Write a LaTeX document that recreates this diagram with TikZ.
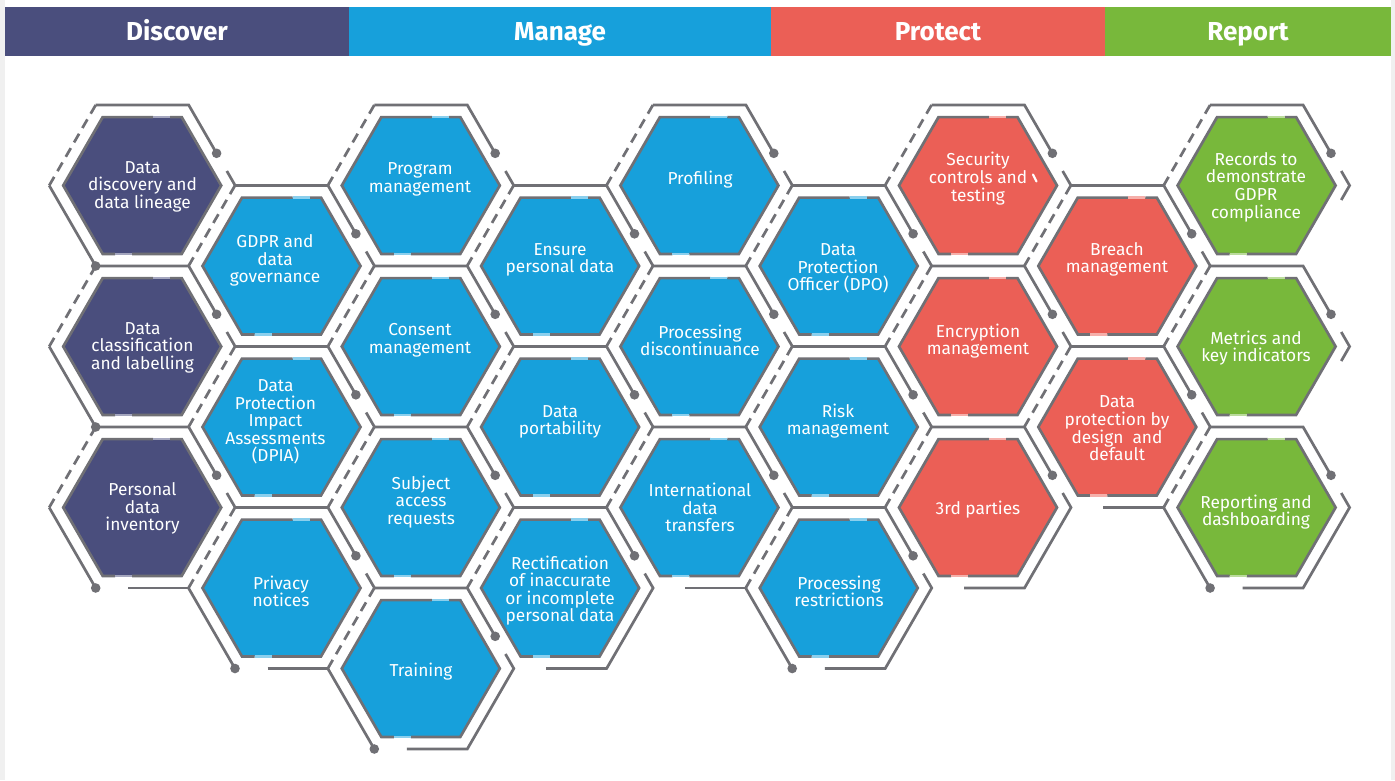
\documentclass[tikz,border=0pt]{standalone}
\usepackage{fontspec}
\setmainfont{Fira Sans}
\usetikzlibrary{calc}
\definecolor{cdisc}{HTML}{4A4E7D}
\definecolor{cman}{HTML}{17A0DB}
\definecolor{cprot}{HTML}{EB5F56}
\definecolor{crep}{HTML}{78B83B}
\definecolor{cline}{HTML}{707075}
\definecolor{cmargin}{HTML}{F0F0F0}
\tikzset{
  frameline/.style={draw=cline,line width=2.7pt,line join=miter},
  dashline/.style={draw=cline,line width=2.7pt,dash pattern=on 10pt off 6.6pt},
  hexline/.style={draw=cline,line width=2.7pt,line join=miter},
  gapline/.style={line width=2.7pt},
  hextext/.style={text=white,align=center,inner sep=0pt,font=\fontsize{17.3}{17.6}\selectfont},
  headtext/.style={text=white,inner sep=0pt,anchor=base,font=\fontsize{26}{30}\selectfont\bfseries}
}
% #1 cx, #2 cy, #3 colour, #4 lower-left boundary, #5 bottom boundary, #6 lower-right mode
\newcommand\hexcell[6]{%
  \begin{scope}[shift={(#1,#2)}]
    \draw[dashline] (-46.5,-80.5) -- (-93,0);
    \draw[frameline] (-46.5,-80.5) -- (46.5,-80.5) -- (74.4,-32.2);
    \fill[cline] (74.4,-32.2) circle (4.8pt);
    \ifcase#6
      \draw[frameline] (84.63,-14.49) -- (93,0);
    \or
      \draw[frameline] (84.63,-14.49) -- (93,0) -- (84.63,14.49);
    \or
      \draw[frameline] (84.63,-14.49) -- (93,0) -- (46.5,80.5) -- (-13.95,80.5);
    \fi
    \ifnum#5=1 \ifnum#6<2 \draw[frameline] (-13.95,80.5) -- (46.5,80.5);\fi\fi
    \ifnum#4=1 \draw[frameline] (-93,0) -- (-46.5,80.5); \fill[cline] (-46.5,80.5) circle (4.8pt);\fi
    \fill[#3] (79,0) -- (39.5,68.4) -- (-39.5,68.4) -- (-79,0) -- (-39.5,-68.4) -- (39.5,-68.4) -- cycle;
    \draw[hexline] (28,-68.4) -- (39.5,-68.4) -- (79,0) -- (39.5,68.4) -- (-10,68.4);
    \draw[hexline] (-27,68.4) -- (-39.5,68.4) -- (-79,0) -- (-39.5,-68.4) -- (11,-68.4);
    \draw[gapline,draw=#3!50!white] (11,-68.4) -- (28,-68.4);
    \draw[gapline,draw=#3!50!white] (-27,68.4) -- (-10,68.4);
  \end{scope}}
\begin{document}
\begin{tikzpicture}[x=1pt,y=-1pt]
  \useasboundingbox (0,0) rectangle (1395,780);
  \fill[white] (0,0) rectangle (1395,780);
  \fill[cmargin] (0,0) rectangle (4.5,780);
  \fill[cmargin] (1390.5,0) rectangle (1395,780);
  % header
  \fill[cdisc] (4.5,7) rectangle (349,56);
  \fill[cman] (349,7) rectangle (771,56);
  \fill[cprot] (771,7) rectangle (1105,56);
  \fill[crep] (1105,7) rectangle (1390.5,56);
  \node[headtext] (hd) at (177,40.5) {Discover};
  \node[headtext] (hm) at (560,40.5) {Manage};
  \node[headtext] (hp) at (938,40.5) {Protect};
  \node[headtext] (hr) at (1248,40.5) {Report};
  % cells
  \hexcell{142.2}{185.5}{cdisc}{1}{0}{0}
  \hexcell{142.2}{346.5}{cdisc}{1}{0}{0}
  \hexcell{142.2}{507.5}{cdisc}{1}{1}{0}
  \hexcell{281.5}{266}{cman}{0}{0}{0}
  \hexcell{281.5}{427}{cman}{0}{0}{0}
  \hexcell{281.5}{588}{cman}{1}{1}{0}
  \hexcell{420.8}{185.5}{cman}{0}{0}{0}
  \hexcell{420.8}{346.5}{cman}{0}{0}{0}
  \hexcell{420.8}{507.5}{cman}{0}{0}{0}
  \hexcell{420.8}{668.5}{cman}{1}{1}{2}
  \hexcell{560.1}{266}{cman}{0}{0}{0}
  \hexcell{560.1}{427}{cman}{0}{0}{0}
  \hexcell{560.1}{588}{cman}{0}{1}{2}
  \hexcell{699.4}{185.5}{cman}{0}{0}{0}
  \hexcell{699.4}{346.5}{cman}{0}{0}{0}
  \hexcell{699.4}{507.5}{cman}{0}{1}{0}
  \hexcell{838.7}{266}{cman}{0}{0}{0}
  \hexcell{838.7}{427}{cman}{0}{0}{0}
  \hexcell{838.7}{588}{cman}{1}{1}{2}
  \hexcell{978}{185.5}{cprot}{0}{0}{0}
  \hexcell{978}{346.5}{cprot}{0}{0}{0}
  \hexcell{978}{507.5}{cprot}{0}{1}{2}
  \hexcell{1117.3}{266}{cprot}{0}{0}{0}
  \hexcell{1117.3}{427}{cprot}{0}{1}{0}
  \hexcell{1256.6}{185.5}{crep}{0}{0}{1}
  \hexcell{1256.6}{346.5}{crep}{0}{0}{1}
  \hexcell{1256.6}{507.5}{crep}{1}{1}{2}
  % labels
  \node[hextext] (n1) at (142.5,186.5) {Data\\discovery and\\data lineage};
  \node[hextext] (n2) at (142.5,347.5) {Data\\classification\\and labelling};
  \node[hextext] (n3) at (142.5,508.5) {Personal\\data\\inventory};
  \node[hextext] (n4) at (275,260.5) {GDPR and\\data\\governance};
  \node[hextext] (n5) at (275.5,422) {Data\\Protection\\Impact\\Assessments\\(DPIA)};
  \node[hextext] (n6) at (281,591.5) {Privacy\\notices};
  \node[hextext] (n7) at (420,179.5) {Program\\management};
  \node[hextext] (n8) at (420,340) {Consent\\management};
  \node[hextext] (n9) at (421,502) {Subject\\access\\requests};
  \node[hextext] (n10) at (421,672) {Training};
  \node[hextext] (n11) at (560,260) {Ensure\\personal data};
  \node[hextext] (n12) at (560,422) {Data\\portability};
  \node[hextext] (n13) at (560,590.5) {Rectification\\of inaccurate\\or incomplete\\personal data};
  \node[hextext] (n14) at (700,180) {Profiling};
  \node[hextext] (n15) at (700,340.5) {Processing\\discontinuance};
  \node[hextext] (n16) at (700,507.5) {International\\data\\transfers};
  \node[hextext] (n17) at (838,268.5) {Data\\Protection\\Officer (DPO)};
  \node[hextext] (n18) at (838,421) {Risk\\management};
  \node[hextext] (n19) at (839,591.5) {Processing\\restrictions};
  \node[hextext] (n20) at (978,178.5) {Security\\controls and\\testing};
  \node[hextext] (n21) at (978,341) {Encryption\\management};
  \node[hextext] (n22) at (978,510) {3rd parties};
  \node[hextext] (n23) at (1117,259.5) {Breach\\management};
  \node[hextext] (n24) at (1117,428.5) {Data\\protection by\\design\ \ and\\default};
  \node[hextext] (n25) at (1256,187) {Records to\\demonstrate\\GDPR\\compliance};
  \node[hextext] (n26) at (1256,348) {Metrics and\\key indicators};
  \node[hextext] (n27) at (1256,512) {Reporting and\\dashboarding};
  \draw[white,line width=2.2pt,line cap=round] (1033,174.5) -- (1036.5,181.5);
\end{tikzpicture}
\end{document}
